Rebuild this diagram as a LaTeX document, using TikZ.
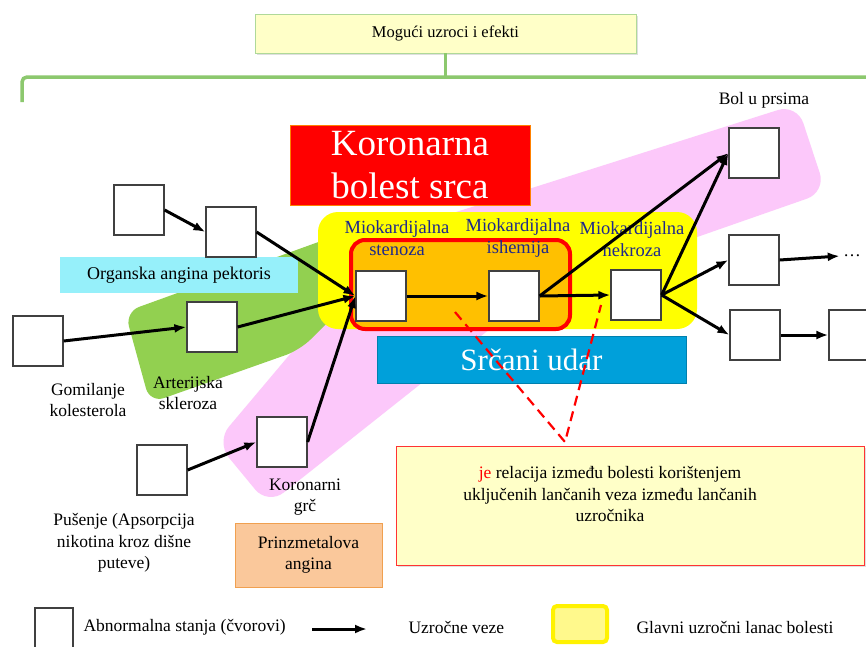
\documentclass[tikz,border=0pt]{standalone}
\usepackage{fontspec}
\setmainfont{Liberation Serif}
\usetikzlibrary{positioning, arrows.meta, shadows}
\definecolor{pinkband}{RGB}{252,200,250}
\definecolor{greenband}{RGB}{146,208,80}
\definecolor{chainyel}{RGB}{255,255,0}
\definecolor{chainorg}{RGB}{255,192,0}
\definecolor{cyanbox}{RGB}{150,240,250}
\definecolor{bluebox}{RGB}{0,160,218}
\definecolor{notefill}{RGB}{255,255,200}
\definecolor{navytext}{RGB}{30,40,140}
\definecolor{bracegreen}{RGB}{140,200,110}
\definecolor{prinzfill}{RGB}{250,200,155}
\definecolor{prinzline}{RGB}{240,160,80}

\begin{document}
\begin{tikzpicture}[x=1pt, y=-1pt,
  state/.style={draw=black!75, fill=white, line width=1.2pt, minimum size=50pt, inner sep=0pt},
  lbl/.style={align=center, font=\fontsize{17.5}{21.5}\selectfont},
  mio/.style={lbl, text=navytext, font=\fontsize{18.5}{21.5}\selectfont},
  cause/.style={-{Latex[length=12pt, width=9pt]}, line width=3pt},
  link/.style={red, line width=2.2pt, dash pattern=on 10pt off 6pt}]
  \useasboundingbox (0,0) rectangle (866,646);
  \fill[white] (0,0) rectangle (866,646);

  % coloured areas
  \fill[pinkband, rounded corners=20pt] (216,442) -- (393,232) -- (797,104) -- (826,192) -- (534,294) -- (268,505) -- cycle;
  \fill[greenband, rounded corners=15pt] (125,312) -- (335,236) -- (345,305) -- (300,350) -- (150,403) -- cycle;
  \fill[chainyel, rounded corners=20pt] (318,212) rectangle (697,329);
  \filldraw[fill=chainorg, draw=red, line width=4pt, rounded corners=14pt] (351,240) rectangle (570,329);

  % title and bracket
  \node[draw=bracegreen!70, fill=notefill, minimum width=381pt, minimum height=39pt,
    drop shadow={opacity=0.25}, font=\fontsize{16.5}{19}\selectfont] (top) at (445.5,33.5) {Mogući uzroci i efekti};
  \coordinate (brk) at (445.5,77);
  \draw[bracegreen, line width=3.5pt, rounded corners=5pt] (22,102) |- (brk) -- (870,77);
  \draw[bracegreen, line width=3.5pt] (top.south) -- (brk);

  % boxes
  \node[draw=orange, fill=red, text=white, minimum width=240pt, minimum height=80pt, inner sep=0pt,
    align=center, font=\fontsize{37}{43}\selectfont] (kbs) at (410,165) {Koronarna\\bolest srca};
  \node[fill=cyanbox, minimum width=238pt, minimum height=36pt, font=\fontsize{18}{21}\selectfont] (oap) at (179,275) {Organska angina pektoris};
  \node[draw=bluebox!80!black, fill=bluebox, text=white, minimum width=309pt, minimum height=47pt,
    font=\fontsize{31}{36}\selectfont] (su) at (531.5,359.5) {Srčani udar};
  \node[lbl, draw=prinzline, fill=prinzfill, minimum width=147pt, minimum height=64pt] (pa) at (308.5,555) {Prinzmetalova\\angina};
  \node[draw=red!80, fill=notefill, minimum width=468pt, minimum height=119pt, drop shadow={opacity=0.25}] (note) at (630,505.5) {};
  \node[lbl] (notet) at (610,494) {\textcolor{red}{je} relacija između bolesti korištenjem\\uključenih lančanih veza između lančanih\\uzročnika};

  % states
  \node[state] (s1) at (139,210) {};
  \node[state] (s2) at (231,232) {};
  \node[state] (gom) at (38,341) {};
  \node[state] (art) at (212,327) {};
  \node[state] (pus) at (162,470) {};
  \node[state] (grc) at (282,442) {};
  \node[state] (sten) at (381,296) {};
  \node[state] (isch) at (514,296) {};
  \node[state] (nekr) at (636,295) {};
  \node[state] (bol) at (754,153) {};
  \node[state] (mid) at (754,260) {};
  \node[state] (low) at (755,335) {};
  \node[state] (far) at (854,335) {};
  \node[lbl] (dots) at (852,256) {\dots};

  % labels
  \node[lbl] (bolt) at (764,100) {Bol u prsima};
  \node[lbl] (gomt) at (88,400) {Gomilanje\\kolesterola};
  \node[lbl] (artt) at (188,393) {Arterijska\\skleroza};
  \node[lbl] (grct) at (305,497) {Koronarni\\grč};
  \node[lbl] (pust) at (124,543) {Pušenje (Apsorpcija\\nikotina kroz dišne\\puteve)};
  \node[mio] (stent) at (397,238) {Miokardijalna\\stenoza};
  \node[mio] (ischt) at (518,238) {Miokardijalna\\ishemija};
  \node[mio] (nekrt) at (632,239) {Miokardijalna\\nekroza};

  % causal links
  \draw[cause] (s1.east) -- (s2.west);
  \draw[cause] (s2.east) -- (sten.west);
  \draw[cause] (gom.east) -- (art.west);
  \draw[cause] (art.east) -- (sten.west);
  \draw[cause] (pus.east) -- (grc.west);
  \draw[cause] (grc.east) -- (sten.west);
  \draw[cause] (sten.east) -- (isch.west);
  \draw[cause] (isch.east) -- (nekr.west);
  \draw[cause] (isch.east) -- (bol.west);
  \draw[cause] (nekr.east) -- (bol.west);
  \draw[cause] (nekr.east) -- (mid.west);
  \draw[cause] (nekr.east) -- (low.west);
  \draw[cause] (mid.east) -- (dots.west);
  \draw[cause] (low.east) -- (far.west);

  % relation to note
  \coordinate (d1) at (455,312);
  \coordinate (d2) at (601,305);
  \coordinate (dj) at (565,442);
  \draw[link] (d1) -- (dj) -- (d2);

  % legend
  \node[state, minimum width=38pt, minimum height=40pt] (lgs) at (54,628) {};
  \node[lbl, anchor=west] (lgst) at (80,627) {Abnormalna stanja (čvorovi)};
  \coordinate (lga) at (312,629);
  \coordinate (lgb) at (367,629);
  \draw[cause] (lga) -- (lgb);
  \node[lbl, anchor=west] (lgat) at (405,627) {Uzročne veze};
  \node[draw=yellow, fill=yellow!45, line width=4pt, rounded corners=4pt, minimum width=54pt, minimum height=36pt] (lgy) at (580,624) {};
  \node[lbl, anchor=west] (lgyt) at (633,627) {Glavni uzročni lanac bolesti};
\end{tikzpicture}
\end{document}
